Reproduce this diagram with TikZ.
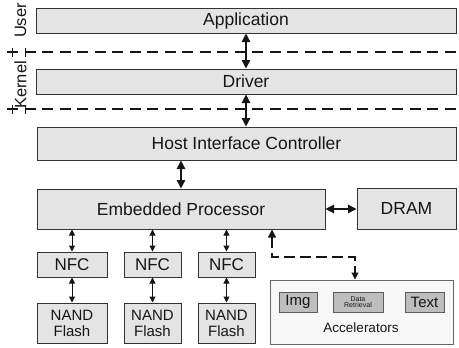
\documentclass[tikz,border=0pt]{standalone}
\usepackage{fontspec}
\setmainfont{Liberation Sans}
\usetikzlibrary{arrows.meta}
\definecolor{boxfill}{HTML}{E4E4E4}
\definecolor{boxline}{HTML}{333333}
\definecolor{accfill}{HTML}{F8F8F8}
\definecolor{unitfill}{HTML}{BEBEBE}
\definecolor{inkc}{HTML}{161616}
\newcommand{\fsz}[1]{\fontsize{#1}{#1}\selectfont}
\tikzset{
  x=1pt, y=-1pt,
  block/.style={draw=boxline, fill=boxfill, line width=1pt, inner sep=0pt,
    text=inkc, font=\fsz{17.5}, align=center},
  unit/.style={draw=boxline!80, fill=unitfill, line width=0.9pt, inner sep=0pt,
    text=inkc, align=center},
  link/.style={draw=inkc, line width=1.2pt, {Triangle[width=8.5pt,length=8.5pt]}-{Triangle[width=8.5pt,length=8.5pt]}},
  minilink/.style={draw=inkc, line width=1pt, {Triangle[width=6pt,length=6pt]}-{Triangle[width=6pt,length=6pt]}},
  layerline/.style={draw=inkc, line width=1.2pt, dash pattern=on 11pt off 6.5pt},
  tapline/.style={draw=inkc, line width=1.1pt, dash pattern=on 11pt off 5pt,
    {Triangle[width=8pt,length=8pt]}-{Triangle[width=7pt,length=7pt]}},
  layerlabel/.style={rotate=90, text=inkc, font=\fsz{16.5}, inner sep=0pt}
}
\begin{document}
\begin{tikzpicture}
\useasboundingbox (0,0) rectangle (459,348);

% software layers
\node[block, minimum width=420pt, minimum height=25pt] (app) at (246,20.5) {Application};
\node[block, minimum width=420pt, minimum height=25pt] (drv) at (246,81.5) {Driver};

% layer separators
\draw[layerline] (7,52) -- (459,52);
\draw[layerline] (7,109) -- (459,109);
\foreach \yy in {52,109} {
  \draw[draw=inkc, line width=1pt] (12.5,\yy-4.5) -- (12.5,\yy+4.5);
  \draw[draw=inkc, line width=1pt] (25,\yy-4.5) -- (25,\yy+4.5);
}
\node[layerlabel] (user) at (20.5,20.5) {User};
\node[layerlabel] (kernel) at (20.5,85) {Kernel};

% device side
\node[block, minimum width=419pt, minimum height=33pt] (hic) at (246.5,143.5) {Host Interface Controller};
\node[block, minimum width=288pt, minimum height=40pt] (ep) at (181,209) {Embedded Processor};
\node[block, minimum width=99pt, minimum height=41pt] (dram) at (406.5,208.5) {DRAM};

\node[block, font=\fsz{17}, minimum width=70pt, minimum height=25pt] (nfc1) at (72,264.5) {NFC};
\node[block, font=\fsz{17}, minimum width=57pt, minimum height=25pt] (nfc2) at (152.5,264.5) {NFC};
\node[block, font=\fsz{17}, minimum width=57pt, minimum height=25pt] (nfc3) at (226.5,264.5) {NFC};

\node[block, font=\fsz{15}, minimum width=70pt, minimum height=40pt] (nand1) at (72,323) {NAND\\[1pt]Flash};
\node[block, font=\fsz{15}, minimum width=57pt, minimum height=40pt] (nand2) at (152.5,323) {NAND\\[1pt]Flash};
\node[block, font=\fsz{15}, minimum width=57pt, minimum height=40pt] (nand3) at (226.5,323) {NAND\\[1pt]Flash};

% accelerators
\node[draw=boxline!75, fill=accfill, line width=1pt, minimum width=183pt, minimum height=64pt, inner sep=0pt] (acc) at (361.5,312) {};
\node[unit, font=\fsz{15}, minimum width=38pt, minimum height=20pt] (img) at (298,302) {Img};
\node[unit, font=\fsz{7}, minimum width=50pt, minimum height=20pt] (dret) at (358,302) {Data\\[-1pt]Retrieval};
\node[unit, font=\fsz{15}, minimum width=39pt, minimum height=20pt] (txt) at (424.5,302) {Text};
\node[text=inkc, font=\fsz{13.5}, inner sep=0pt] (acclabel) at (361,328) {Accelerators};

% connectors
\draw[link] (app.south) -- (drv.north);
\draw[link] (drv.south) -- (hic.north -| drv.south);
\draw[link] (ep.north) -- (ep.north |- hic.south);
\draw[link] (ep.east) -- (ep.east -| dram.west);
\foreach \i in {1,2,3} {
  \draw[minilink] (nfc\i.north) -- (nfc\i.north |- ep.south);
  \draw[minilink] (nfc\i.south) -- (nand\i.north);
}
\coordinate (tapA) at (272,257);
\coordinate (tapB) at (355,257);
\draw[tapline] (ep.south -| tapA) -- (tapA) -- (tapB) -- (tapB |- acc.north);
\end{tikzpicture}
\end{document}
